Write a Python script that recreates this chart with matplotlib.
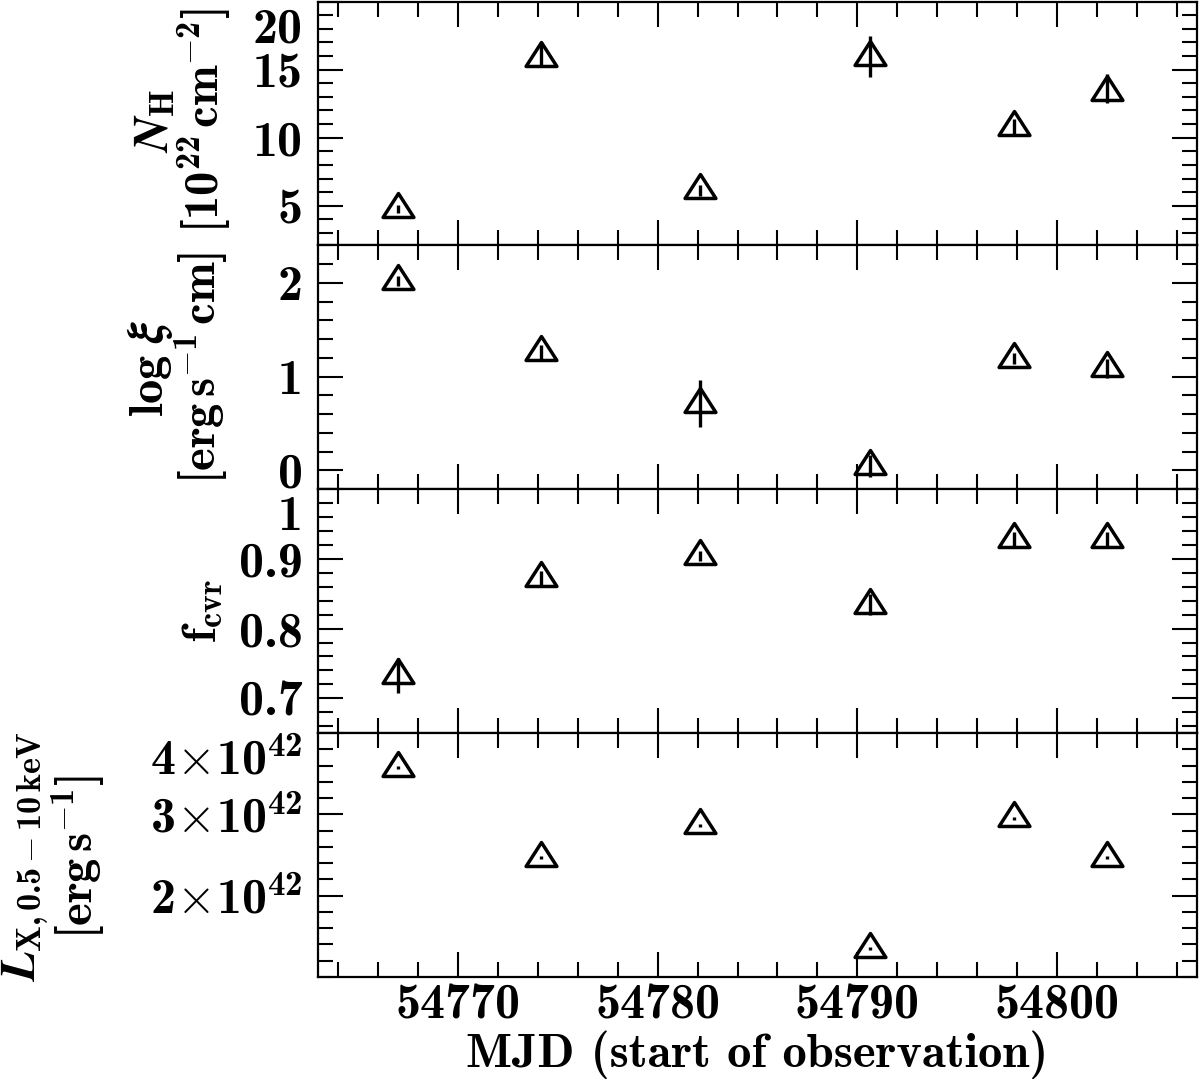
import numpy as np
import matplotlib
matplotlib.use("Agg")
import matplotlib.pyplot as plt
from matplotlib.path import Path
from matplotlib.ticker import MultipleLocator, FixedLocator, FuncFormatter
from matplotlib.transforms import ScaledTranslation

plt.rcParams['font.family'] = 'cmb10'
plt.rcParams['mathtext.fontset'] = 'custom'
plt.rcParams['mathtext.rm'] = 'cmb10'
plt.rcParams['mathtext.bf'] = 'cmb10'
plt.rcParams['mathtext.it'] = 'STIXGeneral:italic:bold'
plt.rcParams['axes.unicode_minus'] = False

# observation start times (MJD)
mjd = [54767.0, 54774.15, 54782.1, 54790.65, 54797.85, 54802.5]

# column density [1e22 cm^-2]
nh = [4.80, 15.86, 6.16, 15.9, 10.81, 13.35]
nh_lo = [0.3, 0.6, 0.4, 1.47, 0.6, 0.8]
nh_hi = [0.3, 1.2, 0.4, 1.54, 0.6, 1.3]

# ionisation parameter
logxi = [2.02, 1.26, 0.71, 0.05, 1.19, 1.09]
logxi_err = [0.05, 0.08, 0.25, 0.12, 0.06, 0.1]

# covering fraction
fcvr = [0.733, 0.873, 0.904, 0.834, 0.929, 0.929]
fcvr_err = [0.025, 0.01, 0.007, 0.015, 0.01, 0.01]

# 0.5-10 keV luminosity [1e42 erg/s]
lx = [3.575, 2.47, 2.865, 1.35, 2.95, 2.47]
lx_err = [0.02, 0.02, 0.02, 0.02, 0.02, 0.02]

# open triangle with the data point at its centroid
tri = Path([(0, 2), (-1.93, -1), (1.93, -1), (0, 2)],
           [Path.MOVETO, Path.LINETO, Path.LINETO, Path.CLOSEPOLY])

W, H = 1200, 1083
fig = plt.figure(figsize=(W / 100, H / 100), dpi=100)

left, right = 318 / W, 1197 / W
top_px, bot_px = 1.5, 977
ph = (bot_px - top_px) / 4

axes = []
for i in range(4):
    y0 = 1 - (top_px + (i + 1) * ph) / H
    ax = fig.add_axes([left, y0, right - left, ph / H],
                      sharex=axes[0] if axes else None)
    axes.append(ax)

panels = [
    (nh, [nh_lo, nh_hi], (2.1, 20), [5, 10, 15, 20], 1,
     '%g'),
    (logxi, logxi_err, (-0.2, 2.4), [0, 1, 2], 0.2, '%g'),
    (fcvr, fcvr_err, (0.65, 1.0), [0.7, 0.8, 0.9, 1.0], 0.02, '%g'),
    (np.array(lx) * 1e42, np.array(lx_err) * 1e42, (1.0e42, 4.0e42),
     [2e42, 3e42, 4e42], 0.2e42, None),
]

for ax, (vals, err, ylim, majors, minor, fmt) in zip(axes, panels):
    ax.errorbar(mjd, vals, yerr=err, fmt='none', ecolor='k',
                elinewidth=2.4, capsize=0)
    ax.plot(mjd, vals, ls='none', marker=tri, ms=23, mfc='none',
            mec='k', mew=2.5)
    ax.set_ylim(*ylim)
    ax.yaxis.set_major_locator(FixedLocator(majors))
    ax.yaxis.set_minor_locator(MultipleLocator(minor))
    if fmt:
        ax.yaxis.set_major_formatter(FuncFormatter(lambda v, p, f=fmt: f % v))
    else:
        ax.yaxis.set_major_formatter(FuncFormatter(
            lambda v, p: r'$%d\!\times\!10^{42}$' % round(v / 1e42)))
    ax.tick_params(which='both', direction='in', top=True, right=True,
                   width=1.5, labelsize=36)
    ax.tick_params(axis='y', pad=11)
    ax.tick_params(axis='x', pad=5)
    ax.tick_params(which='major', length=18)
    ax.tick_params(which='minor', length=10.5)
    for s in ax.spines.values():
        s.set_linewidth(1.6)
    if ax is not axes[-1]:
        ax.tick_params(labelbottom=False)

axes[0].set_xlim(54763, 54807)
axes[0].xaxis.set_major_locator(MultipleLocator(10))
axes[0].xaxis.set_minor_locator(MultipleLocator(2))
axes[-1].set_xlabel('MJD (start of observation)', fontsize=35, labelpad=1)

lab = dict(rotation=90, ha='center', va='center', multialignment='center',
           fontsize=35, linespacing=0.95)
fig.text(183 / W, 1 - 121 / H,
         r'$N_{\mathrm{H}}$' + '\n' + r'$[10^{22}\,\mathrm{cm}^{-2}]$', **lab)
fig.text(178 / W, 1 - 368 / H,
         r'$\log\,\xi$' + '\n' + r'$[\mathrm{erg\,s}^{-1}\,\mathrm{cm}]$', **lab)
fig.text(203 / W, 1 - 611 / H, r'$\mathrm{f}_{\mathrm{cvr}}$', **lab)
fig.text(54 / W, 1 - 857 / H,
         r'$L_{\mathrm{X,0.5-10\,keV}}$' + '\n' + r'$[\mathrm{erg\,s}^{-1}]$',
         **lab)

# labels sitting on the upper frame are pushed inside the panel
fig.canvas.draw()
shift = ScaledTranslation(0, -4 / 72, fig.dpi_scale_trans)
for ax in axes:
    top = ax.get_ylim()[1]
    for t in ax.yaxis.get_major_ticks():
        if np.isclose(t.get_loc(), top, rtol=1e-6):
            t.label1.set_va('top')
            t.label1.set_transform(t.label1.get_transform() + shift)

fig.savefig('out.png', dpi=100)
